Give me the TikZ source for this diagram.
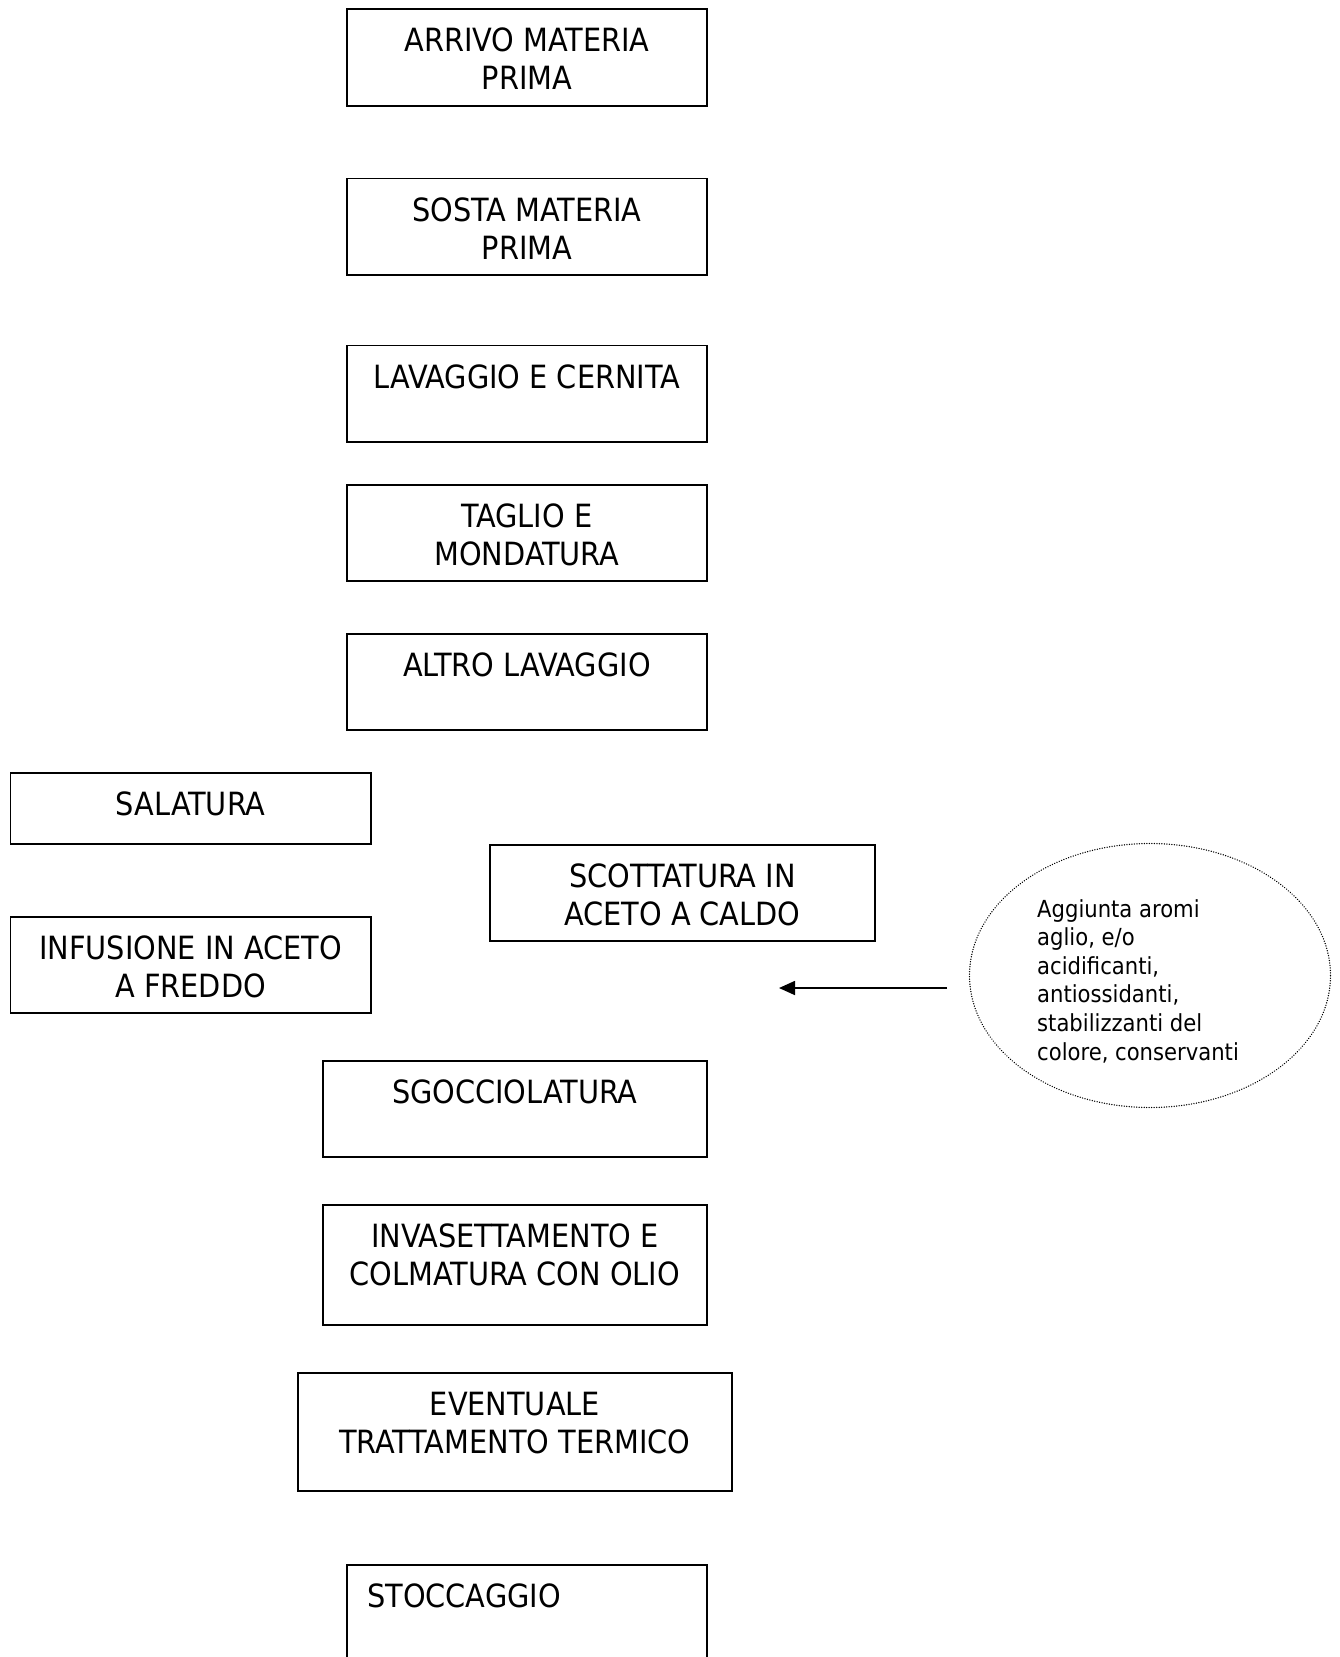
\documentclass[tikz,border=0pt]{standalone}
\usepackage{fontspec}
\setmainfont{DejaVu Sans Condensed}
\usetikzlibrary{calc,shapes.geometric,arrows.meta}

\tikzset{
  stepbox/.style={draw, line width=1.8pt, inner sep=0pt, anchor=north west},
  steptext/.style={anchor=north, inner sep=0pt, align=center,
    font=\fontsize{32}{38}\selectfont},
  notebubble/.style={draw, ellipse, line width=1.4pt, line cap=round,
    dash pattern=on 0.1pt off 2.4pt, inner sep=0pt},
  notetext/.style={anchor=north west, inner sep=0pt, align=left,
    font=\fontsize{23.5}{28.6}\selectfont},
  feed/.style={line width=1.7pt, -{Triangle[length=16pt,width=14pt]}}
}

\begin{document}
\begin{tikzpicture}[x=1pt,y=-1pt]
  \useasboundingbox (0,0) rectangle (1339,1657);

  % main processing column
  \node[stepbox, minimum width=360pt, minimum height=97pt] (arrivo) at (346,8) {};
  \node[steptext] (arrivo-t) at ($(arrivo.north)+(0,20)$) {ARRIVO MATERIA\\PRIMA};

  \node[stepbox, minimum width=360pt, minimum height=96.5pt] (sosta) at (346,177.5) {};
  \node[steptext] (sosta-t) at ($(sosta.north)+(0,20)$) {SOSTA MATERIA\\PRIMA};

  \node[stepbox, minimum width=360pt, minimum height=96.5pt] (lavaggio) at (346,344.5) {};
  \node[steptext] (lavaggio-t) at ($(lavaggio.north)+(0,20)$) {LAVAGGIO E CERNITA};

  \node[stepbox, minimum width=360pt, minimum height=96pt] (taglio) at (346,484) {};
  \node[steptext] (taglio-t) at ($(taglio.north)+(0,20)$) {TAGLIO E\\MONDATURA};

  \node[stepbox, minimum width=360pt, minimum height=96pt] (altro) at (346,633) {};
  \node[steptext] (altro-t) at ($(altro.north)+(0,20)$) {ALTRO LAVAGGIO};

  % alternative treatments
  \node[stepbox, minimum width=360.5pt, minimum height=71pt] (salatura) at (9.5,772) {};
  \node[steptext] (salatura-t) at ($(salatura.north)+(0,20)$) {SALATURA};

  \node[stepbox, minimum width=360.5pt, minimum height=96pt] (infusione) at (9.5,916) {};
  \node[steptext] (infusione-t) at ($(infusione.north)+(0,20)$) {INFUSIONE IN ACETO\\A FREDDO};

  \node[stepbox, minimum width=385pt, minimum height=96pt] (scottatura) at (489,844) {};
  \node[steptext] (scottatura-t) at ($(scottatura.north)+(0,20)$) {SCOTTATURA IN\\ACETO A CALDO};

  % additives
  \node[notebubble, minimum width=361pt, minimum height=264pt] (aggiunta) at (1150,975.5) {};
  \node[notetext] (aggiunta-t) at (1037,899) {Aggiunta aromi\\aglio, e/o\\acidificanti,\\antiossidanti,\\stabilizzanti del\\colore, conservanti};
  \coordinate (feed-from) at (947,988);
  \coordinate (feed-to) at (779,988);
  \draw[feed] (feed-from) -- (feed-to);

  % final steps
  \node[stepbox, minimum width=384pt, minimum height=96pt] (sgocciolatura) at (322,1060) {};
  \node[steptext] (sgocciolatura-t) at ($(sgocciolatura.north)+(0,20)$) {SGOCCIOLATURA};

  \node[stepbox, minimum width=384pt, minimum height=120pt] (invasettamento) at (322,1204) {};
  \node[steptext] (invasettamento-t) at ($(invasettamento.north)+(0,20)$) {INVASETTAMENTO E\\COLMATURA CON OLIO};

  \node[stepbox, minimum width=434pt, minimum height=118pt] (eventuale) at (297,1372) {};
  \node[steptext] (eventuale-t) at ($(eventuale.north)+(0,20)$) {EVENTUALE\\TRATTAMENTO TERMICO};

  \node[stepbox, minimum width=360pt, minimum height=140pt] (stoccaggio) at (346,1564) {};
  \node[steptext, anchor=north west] (stoccaggio-t) at ($(stoccaggio.north west)+(21,20)$) {STOCCAGGIO};
\end{tikzpicture}
\end{document}
